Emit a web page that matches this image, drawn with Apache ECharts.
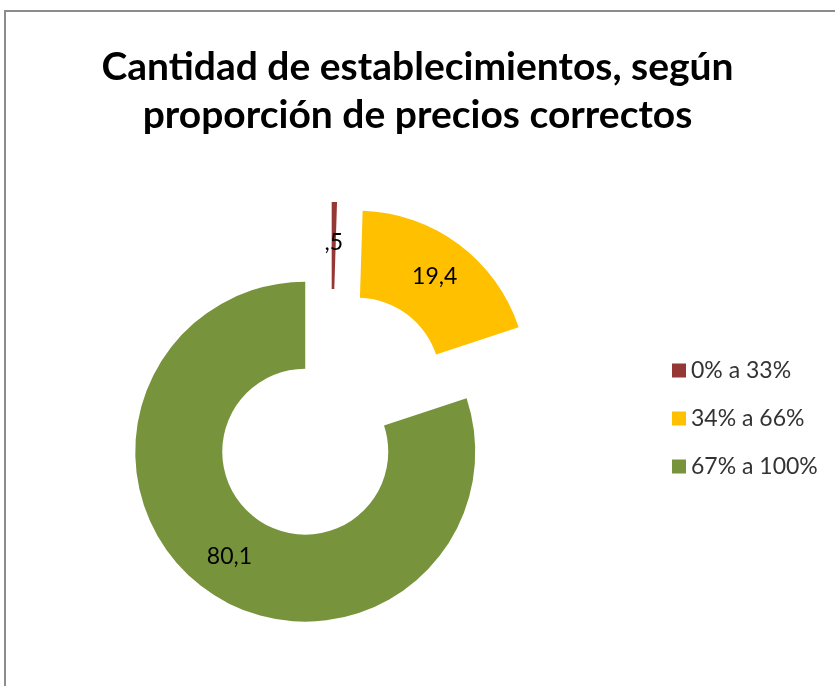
<!DOCTYPE html>
<html>
<head>
<meta charset="utf-8">
<script src="https://cdn.jsdelivr.net/npm/echarts@6/dist/echarts.min.js"></script>
<style>
  html, body { margin: 0; padding: 0; background: #fff; }
  #chart { width: 835px; height: 686px; }
</style>
</head>
<body>
<div id="chart"></div>
<script>
var categories = ['0% a 33%', '34% a 66%', '67% a 100%'];
var values = [0.5, 19.4, 80.1];
var colors = ['#953735', '#FFC000', '#77933C'];

// 0.5 -> ",5" como en el original
function fmt(v) {
  return String(v).replace('.', ',').replace(/^0,/, ',');
}

var chart = echarts.init(document.getElementById('chart'), null, { renderer: 'canvas' });
chart.setOption({
  animation: false,
  graphic: [{
    type: 'rect',
    shape: { x: 5, y: 11, width: 900, height: 800 },
    style: { fill: 'none', stroke: '#8c8c8c', lineWidth: 2 },
    silent: true
  }],
  title: {
    text: 'Cantidad de establecimientos, según\nproporción de precios correctos',
    left: 'center',
    top: 38,
    textStyle: {
      fontFamily: 'Lato',
      fontWeight: 'bold',
      fontSize: 39,
      lineHeight: 48,
      color: '#000'
    }
  },
  legend: {
    orient: 'vertical',
    left: 667,
    top: 354,
    itemWidth: 14,
    itemHeight: 14,
    itemGap: 25,
    icon: 'rect',
    selectedMode: false,
    data: categories,
    textStyle: {
      fontFamily: 'Lato',
      fontSize: 23,
      lineHeight: 23,
      color: '#333'
    }
  },
  series: [{
    type: 'pie',
    center: [331, 416],
    radius: [83, 170],
    startAngle: 90,
    clockwise: true,
    selectedMode: 'multiple',
    selectedOffset: 44,
    avoidLabelOverlap: false,
    emphasis: { disabled: true },
    label: {
      show: true,
      position: 'inside',
      fontFamily: 'Lato',
      fontSize: 23,
      color: '#000',
      formatter: function (p) {
        return fmt(p.value);
      }
    },
    labelLine: { show: false },
    data: categories.map(function (c, i) {
      return {
        name: c,
        value: values[i],
        selected: true,
        itemStyle: { color: colors[i] },
        select: { itemStyle: { color: colors[i] } }
      };
    })
  }]
});
</script>
</body>
</html>
